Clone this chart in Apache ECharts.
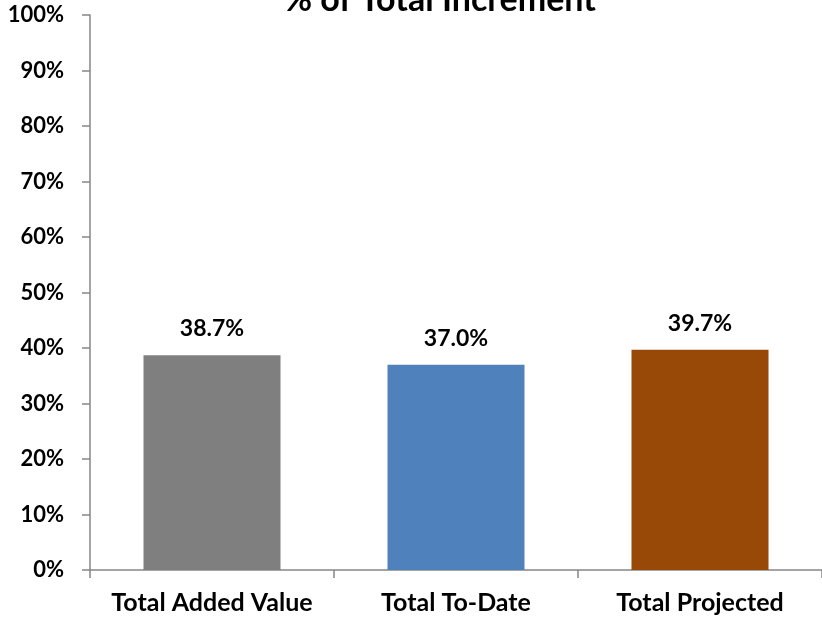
<!DOCTYPE html>
<html>
<head>
<meta charset="utf-8">
<script src="https://cdn.jsdelivr.net/npm/echarts@6/dist/echarts.min.js"></script>
<style>html,body{margin:0;padding:0;background:#fff;}#c{width:822px;height:619px;}</style>
</head>
<body>
<div id="c"></div>
<script>
const categories = ['Total Added Value', 'Total To-Date', 'Total Projected'];
const values = [38.7, 37.0, 39.7];
const barColors = ['#7F7F7F', '#4F81BD', '#984807'];
const yTicks = [0, 10, 20, 30, 40, 50, 60, 70, 80, 90, 100];

const FONT = 'Lato';
const chart = echarts.init(document.getElementById('c'), null, {renderer: 'canvas'});
chart.setOption({
  animation: false,
  title: {
    text: '% of Total Increment',
    left: 435, top: -22, textAlign: 'center',
    textStyle: {fontFamily: FONT, fontWeight: 'bold', fontSize: 34, color: '#000'}
  },
  grid: {left: 90, top: 15, width: 735, height: 555, containLabel: false},
  xAxis: {
    type: 'category',
    data: categories,
    axisLine: {lineStyle: {color: '#868686', width: 1.5}},
    axisTick: {show: true, interval: 0, length: 8, lineStyle: {color: '#868686', width: 1.5}},
    axisLabel: {interval: 0, fontFamily: FONT, fontWeight: 'bold', fontSize: 25, color: '#000', margin: 20}
  },
  yAxis: {
    type: 'value', min: 0, max: 100, interval: 10,
    splitLine: {show: false},
    axisLine: {show: true, lineStyle: {color: '#868686', width: 1.5}},
    axisTick: {show: true, length: 8, lineStyle: {color: '#868686', width: 1.5}},
    axisLabel: {fontFamily: FONT, fontWeight: 'bold', fontSize: 22, color: '#000', margin: 26,
      formatter: v => yTicks.includes(v) ? v + '%' : ''}
  },
  series: [{
    type: 'bar',
    barWidth: 137,
    data: values.map((v, i) => ({value: v, itemStyle: {color: barColors[i]}})),
    label: {
      show: true, position: 'top', distance: 15,
      fontFamily: FONT, fontWeight: 'bold', fontSize: 23, color: '#000',
      formatter: p => p.value.toFixed(1) + '%'
    }
  }]
});
</script>
</body>
</html>
